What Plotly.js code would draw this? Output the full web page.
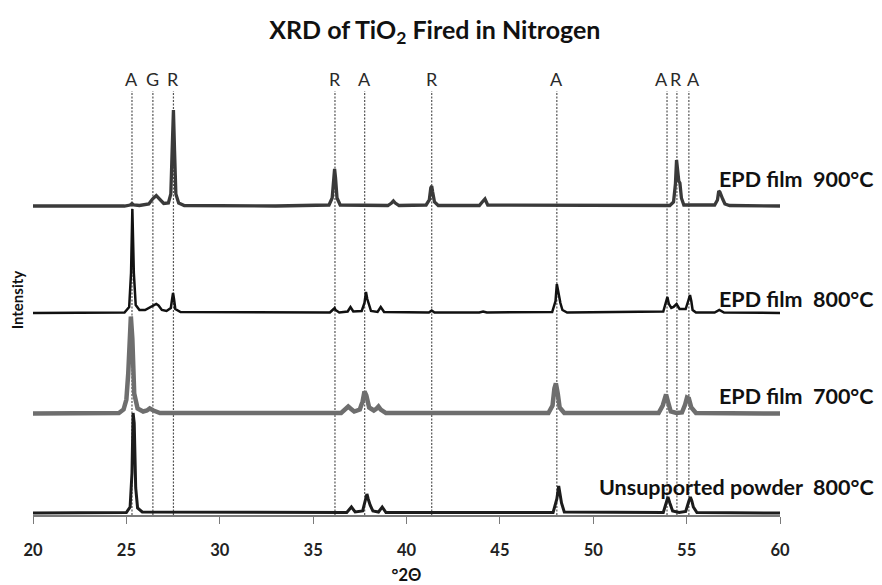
<!DOCTYPE html>
<html>
<head>
<meta charset="utf-8">
<script src="https://cdn.plot.ly/plotly-3.0.1.min.js"></script>
<style>
  html, body { margin: 0; padding: 0; background: #ffffff; }
  #chart { width: 882px; height: 585px; }
</style>
</head>
<body>
<div id="chart"></div>
<script>
// XRD patterns of TiO2 fired in nitrogen (intensity in arbitrary units, relative to each pattern's baseline)

// Phase reference lines: A = anatase, G = graphite, R = rutile
const phaseLabels = ['A', 'G', 'R', 'R', 'A', 'R', 'A', 'A', 'R', 'A'];
const phasePositions = [25.3, 26.42, 27.52, 36.17, 37.76, 41.35, 48.05, 53.95, 54.48, 55.12];

// Sample names, bottom to top
const sampleNames = [
  'Unsupported powder\u00a0\u00a0800°C',
  'EPD film\u00a0\u00a0700°C',
  'EPD film\u00a0\u00a0800°C',
  'EPD film\u00a0\u00a0900°C'
];

// Unsupported powder, 800°C
const twoThetaPowder800 = [20, 25.0, 25.2, 25.3, 25.36, 25.42, 25.5, 25.6, 25.85, 36.8, 37.05, 37.25, 37.65, 37.8, 37.88, 37.95, 38.05, 38.2, 38.5, 38.7, 38.9, 47.85, 48.05, 48.15, 48.22, 48.3, 48.45, 53.75, 53.92, 54.0, 54.1, 54.25, 54.6, 54.95, 55.12, 55.2, 55.28, 55.36, 55.55, 60];
const countsPowder800 = [0, 0.5, 6, 40, 100, 90, 25, 5, 1, 0.5, 6, 1, 2, 12, 19, 14, 8, 2, 1, 6, 0.5, 0.5, 14, 27, 20, 10, 1, 0.5, 11, 16, 10, 2, 0.5, 1.5, 12, 16, 12, 6, 0.5, 0];

// EPD film, 700°C
const twoThetaFilm700 = [20, 24.6, 24.85, 25.0, 25.1, 25.18, 25.24, 25.32, 25.42, 25.6, 25.9, 26.1, 26.25, 26.45, 26.8, 36.5, 36.75, 36.88, 37.0, 37.2, 37.5, 37.65, 37.75, 37.85, 38.0, 38.25, 38.4, 38.5, 38.62, 38.9, 47.6, 47.82, 47.92, 48.0, 48.1, 48.2, 48.45, 53.5, 53.72, 53.82, 53.9, 54.0, 54.15, 54.45, 54.75, 54.92, 55.02, 55.12, 55.25, 55.5, 60];
const countsFilm700 = [0, 0.5, 4, 14, 40, 80, 97, 75, 20, 5, 2, 3, 5, 3, 0.5, 0.5, 4, 7, 5, 2, 4, 12, 22, 18, 6, 3, 5, 7, 4, 0.5, 0.5, 8, 25, 30, 20, 6, 0.5, 0.5, 8, 17, 19, 12, 2, 0.5, 1, 9, 16, 15, 6, 0.5, 0];

// EPD film, 800°C
const twoThetaFilm800 = [20, 24.9, 25.15, 25.25, 25.32, 25.4, 25.5, 25.7, 26.0, 26.3, 26.5, 26.6, 26.72, 26.9, 27.15, 27.38, 27.45, 27.5, 27.55, 27.62, 27.9, 35.9, 36.1, 36.15, 36.2, 36.4, 36.85, 37.0, 37.15, 37.6, 37.75, 37.83, 37.9, 37.97, 38.1, 38.45, 38.62, 38.8, 41.2, 41.35, 41.5, 43.9, 44.1, 44.3, 47.8, 47.98, 48.05, 48.1, 48.16, 48.24, 48.35, 48.6, 53.75, 53.9, 53.97, 54.05, 54.18, 54.3, 54.46, 54.62, 54.95, 55.1, 55.18, 55.25, 55.32, 55.5, 56.5, 56.75, 57.0, 60];
const countsFilm800 = [0, 0.5, 6, 40, 104, 40, 8, 3, 3, 6, 8.5, 9, 7.5, 3, 2, 5, 14, 20, 14, 4, 1, 0.5, 4, 5, 3, 0.5, 1.5, 6, 1.5, 2, 10, 21, 14, 10, 2, 1, 6, 1, 0.5, 2.5, 0.5, 0.5, 1.5, 0.5, 1, 12, 29, 24, 16, 10, 3, 0.5, 1.5, 10, 16, 9, 5, 6, 9, 4, 4, 13, 18, 12, 3, 0.5, 0.5, 3, 0.5, 0];

// EPD film, 900°C
const twoThetaFilm900 = [20, 24.9, 25.2, 25.3, 25.4, 25.7, 26.2, 26.4, 26.6, 26.8, 27.0, 27.25, 27.38, 27.45, 27.52, 27.58, 27.65, 27.8, 28.1, 33.0, 35.85, 36.02, 36.1, 36.15, 36.2, 36.28, 36.45, 39.0, 39.2, 39.3, 39.4, 39.6, 41.05, 41.22, 41.3, 41.35, 41.4, 41.5, 41.7, 43.9, 44.1, 44.2, 44.35, 54.1, 54.3, 54.4, 54.46, 54.52, 54.58, 54.64, 54.72, 54.85, 56.5, 56.65, 56.72, 56.78, 56.86, 56.93, 57.05, 57.3, 60];
const countsFilm900 = [0, 0, 1, 2.5, 1, 0.5, 2, 7, 10.5, 7, 2.5, 3, 12, 55, 96, 55, 12, 3, 0.5, 0, 1, 8, 30, 37, 28, 8, 1, 0.5, 3, 5, 3, 0.5, 1, 6, 18, 20, 14, 4, 0.5, 0.5, 5, 7, 1, 0.5, 4, 22, 46, 38, 25, 23, 8, 1, 1, 6, 15, 14, 9, 7, 2, 0.5, 0];

// Vertical stacking offset of each pattern (bottom to top)
const stackOffsets = [2, 101.5, 202, 309];

const twoThetaSets = [twoThetaPowder800, twoThetaFilm700, twoThetaFilm800, twoThetaFilm900];
const countSets = [countsPowder800, countsFilm700, countsFilm800, countsFilm900];

const lineStyles = [
  { color: '#1c1c1c', width: 3 },
  { color: '#6e6e6e', width: 4.5 },
  { color: '#111111', width: 2.5 },
  { color: '#3a3a3a', width: 3.3 }
];
const drawOrder = [1, 3, 2, 0];

const traces = drawOrder.map(i => ({
  type: 'scatter',
  mode: 'lines',
  name: sampleNames[i],
  x: twoThetaSets[i],
  y: countSets[i].map(v => v + stackOffsets[i]),
  line: { color: lineStyles[i].color, width: lineStyles[i].width, shape: 'linear' },
  hoverinfo: 'skip'
}));

const FONT = 'Lato, "Open Sans", "DejaVu Sans", sans-serif';

// Dashed phase reference lines from the axis up to just below their letters
const shapes = phasePositions.map(p => ({
  type: 'line', layer: 'below',
  xref: 'x', yref: 'y',
  x0: p, x1: p, y0: 0, y1: 424,
  line: { color: '#555555', width: 1.2, dash: '2px,1.5px' }
}));

const labelNudge = [0, 0, 0, 0, 0, 0, 0, -6, -1, 5];
const annotations = phaseLabels.map((t, k) => ({
  xref: 'x', yref: 'y',
  x: phasePositions[k], y: 436,
  xshift: labelNudge[k],
  text: t, showarrow: false,
  xanchor: 'center', yanchor: 'middle',
  font: { family: FONT, size: 18, color: '#2a2a2a' }
}));

// Sample names to the right of each pattern
const nameY = [28, 119, 216, 336];
sampleNames.forEach((t, i) => {
  annotations.push({
    xref: 'paper', yref: 'y',
    x: 1.1285, y: nameY[i],
    text: t, showarrow: false,
    xanchor: 'right', yanchor: 'middle',
    font: { family: FONT, size: 21.5, color: '#111111', weight: 'bold' }
  });
});

// Vertical axis title
annotations.push({
  xref: 'paper', yref: 'paper',
  x: -0.022, y: 0.473,
  text: 'Intensity', showarrow: false, textangle: -90,
  xanchor: 'center', yanchor: 'middle',
  font: { family: FONT, size: 15, color: '#111111', weight: 'bold' }
});

const layout = {
  width: 882,
  height: 585,
  paper_bgcolor: '#ffffff',
  plot_bgcolor: '#ffffff',
  showlegend: false,
  margin: { l: 33, r: 102, t: 60, b: 70 },
  title: {
    text: 'XRD of TiO<sub>2</sub> Fired in Nitrogen',
    font: { family: FONT, size: 25, color: '#111111', weight: 'bold' },
    x: 0.493, xanchor: 'center', xref: 'container',
    y: 0.949, yanchor: 'middle', yref: 'container'
  },
  xaxis: {
    range: [20, 60],
    dtick: 5, tick0: 20,
    ticks: 'outside', ticklen: 7, tickwidth: 1, tickcolor: '#7a7a7a',
    showline: true, linecolor: '#7a7a7a', linewidth: 1.5,
    showgrid: false, zeroline: false,
    ticklabelstandoff: 13,
    tickfont: { family: FONT, size: 16.5, color: '#222222', weight: 'bold' },
    title: {
      text: '°2Θ',
      font: { family: FONT, size: 16.5, color: '#111111', weight: 'bold' },
      standoff: 12
    },
    automargin: false,
    fixedrange: true
  },
  yaxis: {
    range: [0, 455],
    showticklabels: false, ticks: '',
    showline: false, showgrid: false, zeroline: false,
    automargin: false,
    fixedrange: true
  },
  shapes: shapes,
  annotations: annotations
};

Plotly.newPlot('chart', traces, layout, { displayModeBar: false, staticPlot: true });
</script>
</body>
</html>
